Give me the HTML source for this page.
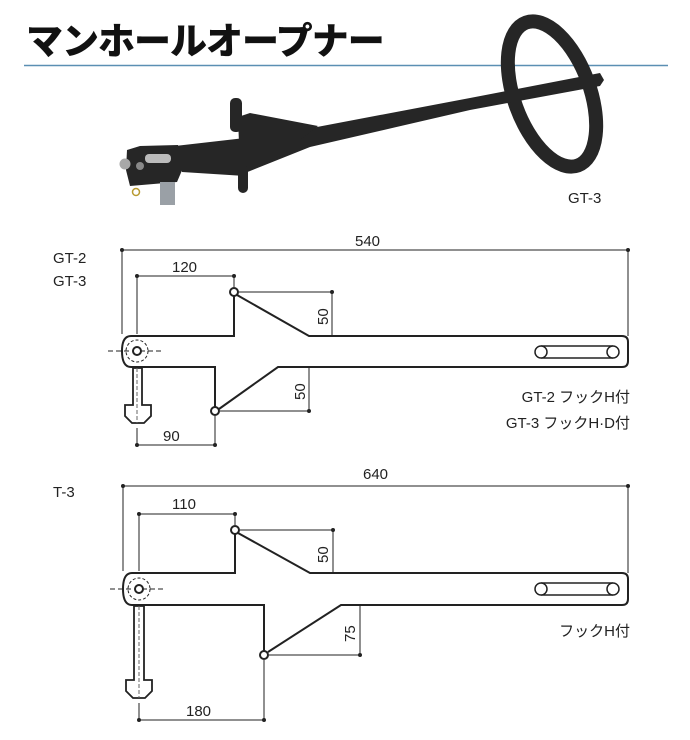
<!DOCTYPE html>
<html><head><meta charset="utf-8"><style>
html,body{margin:0;padding:0;background:#fff;}
svg{display:block;}
text{font-family:"Liberation Sans","Noto Sans CJK JP",sans-serif;fill:#222;}
</style></head><body>
<svg width="690" height="740" viewBox="0 0 690 740" xmlns="http://www.w3.org/2000/svg">
<!-- header -->
<text x="26" y="54" style="font-family:'Noto Sans CJK JP','WenQuanYi Zen Hei',sans-serif;font-weight:900;font-size:37px;fill:#111;letter-spacing:-1px">マンホールオープナー</text>
<line x1="24" y1="65.5" x2="668" y2="65.5" stroke="#5b8fb3" stroke-width="1.5"/>

<!-- photo sketch -->
<g fill="#262626" stroke="none">
  <ellipse cx="552" cy="94" rx="38" ry="76" transform="rotate(-20 552 94)" fill="none" stroke="#262626" stroke-width="14"/>
  <!-- beam -->
  <polygon points="240,140 317,127 470,98 600,73 604,80 600,86 470,110 310,147 240,175"/>
  <!-- plate -->
  <polygon points="238,117 250,113 318,126 300,140 260,160 240,170"/>
  <!-- neck -->
  <polygon points="175,146 245,138 245,176 182,172"/>
  <!-- posts -->
  <rect x="230" y="98" width="12" height="34" rx="5"/>
  <rect x="238" y="165" width="10" height="28" rx="5"/>
  <!-- clevis -->
  <polygon points="127,150 140,146 178,145 183,168 177,182 130,186 126,170"/>
  <rect x="145" y="154" width="26" height="9" rx="4" fill="#bbb"/>
  <rect x="160" y="182" width="15" height="23" fill="#9aa0a6"/>
  <circle cx="125" cy="164" r="5.5" fill="#a8a8a8"/>
  <circle cx="140" cy="166" r="4" fill="#888"/>
  <circle cx="136" cy="192" r="3.5" fill="none" stroke="#b89a30" stroke-width="1.5"/>
</g>
<text x="568" y="203" font-size="15">GT-3</text>

<g stroke="#222" fill="none" stroke-width="2">
  <!-- ============ Diagram 1 ============ -->
  <g stroke-width="1">
    <line x1="122" y1="250" x2="628" y2="250"/>
    <line x1="122" y1="250" x2="122" y2="334"/>
    <line x1="628" y1="250" x2="628" y2="336"/>
    <line x1="137" y1="276" x2="234" y2="276"/>
    <line x1="137" y1="276" x2="137" y2="334"/>
    <line x1="234" y1="276" x2="234" y2="287"/>
    <line x1="239" y1="292" x2="332" y2="292"/>
    <line x1="332" y1="292" x2="332" y2="336"/>
    <line x1="220" y1="411" x2="309" y2="411"/>
    <line x1="309" y1="367" x2="309" y2="411"/>
    <line x1="137" y1="428" x2="137" y2="445"/>
    <line x1="215" y1="416" x2="215" y2="445"/>
    <line x1="137" y1="445" x2="215" y2="445"/>
    <line x1="108" y1="351" x2="164" y2="351" stroke-dasharray="5,3"/>
    <circle cx="137" cy="351" r="11" stroke-dasharray="3,2"/>
  </g>
  <g fill="#222" stroke="none">
    <circle cx="122" cy="250" r="2"/><circle cx="628" cy="250" r="2"/>
    <circle cx="137" cy="276" r="2"/><circle cx="234" cy="276" r="2"/>
    <circle cx="332" cy="292" r="2"/><circle cx="309" cy="411" r="2"/>
    <circle cx="137" cy="445" r="2"/><circle cx="215" cy="445" r="2"/>
  </g>
  <path d="M131,336 H234 V296 M237,295 L309,336 H622 Q628,336 628,342 V361 Q628,367 622,367 H278 L219,409 M215,407 V367 H131 Q122,367 122,351 Q122,336 131,336"/>
  <circle cx="234" cy="292" r="4" fill="#fff"/>
  <circle cx="215" cy="411" r="4" fill="#fff"/>
  <circle cx="137" cy="351" r="4" fill="#fff"/>
  <path d="M541,346 H613 M541,358 H613" stroke-width="1.5"/>
  <circle cx="541" cy="352" r="6" fill="#fff" stroke-width="1.5"/>
  <circle cx="613" cy="352" r="6" fill="#fff" stroke-width="1.5"/>
  <path d="M133,368 V405 H125 V416 L132,423 H144 L151,416 V405 H142 V368 Z" fill="#fff" stroke-width="1.8"/>
  <line x1="137" y1="368" x2="137" y2="423" stroke-width="1" stroke="#666" stroke-dasharray="4,2"/>

  <!-- ============ Diagram 2 ============ -->
  <g stroke-width="1">
    <line x1="123" y1="486" x2="628" y2="486"/>
    <line x1="123" y1="486" x2="123" y2="571"/>
    <line x1="628" y1="486" x2="628" y2="573"/>
    <line x1="139" y1="514" x2="235" y2="514"/>
    <line x1="139" y1="514" x2="139" y2="571"/>
    <line x1="235" y1="514" x2="235" y2="525"/>
    <line x1="240" y1="530" x2="333" y2="530"/>
    <line x1="333" y1="530" x2="333" y2="573"/>
    <line x1="269" y1="655" x2="360" y2="655"/>
    <line x1="360" y1="605" x2="360" y2="655"/>
    <line x1="139" y1="703" x2="139" y2="720"/>
    <line x1="264" y1="660" x2="264" y2="720"/>
    <line x1="139" y1="720" x2="264" y2="720"/>
    <line x1="110" y1="589" x2="164" y2="589" stroke-dasharray="5,3"/>
    <circle cx="139" cy="589" r="11" stroke-dasharray="3,2"/>
  </g>
  <g fill="#222" stroke="none">
    <circle cx="123" cy="486" r="2"/><circle cx="628" cy="486" r="2"/>
    <circle cx="139" cy="514" r="2"/><circle cx="235" cy="514" r="2"/>
    <circle cx="333" cy="530" r="2"/><circle cx="360" cy="655" r="2"/>
    <circle cx="139" cy="720" r="2"/><circle cx="264" cy="720" r="2"/>
  </g>
  <path d="M132,573 H235 V534 M238,533 L310,573 H622 Q628,573 628,579 V599 Q628,605 622,605 H341 L268,652 M264,651 V605 H132 Q123,605 123,589 Q123,573 132,573"/>
  <circle cx="235" cy="530" r="4" fill="#fff"/>
  <circle cx="264" cy="655" r="4" fill="#fff"/>
  <circle cx="139" cy="589" r="4" fill="#fff"/>
  <path d="M541,583 H613 M541,595 H613" stroke-width="1.5"/>
  <circle cx="541" cy="589" r="6" fill="#fff" stroke-width="1.5"/>
  <circle cx="613" cy="589" r="6" fill="#fff" stroke-width="1.5"/>
  <path d="M134,606 V680 H126 V691 L133,698 H145 L152,691 V680 H144 V606 Z" fill="#fff" stroke-width="1.8"/>
  <line x1="139" y1="606" x2="139" y2="698" stroke-width="1" stroke="#666" stroke-dasharray="4,2"/>
</g>

<!-- labels -->
<g font-size="15">
  <text x="53" y="263">GT-2</text>
  <text x="53" y="286">GT-3</text>
  <text x="355" y="246">540</text>
  <text x="172" y="272">120</text>
  <text x="163" y="441">90</text>
  <text transform="translate(328,325) rotate(-90)">50</text>
  <text transform="translate(305,400) rotate(-90)">50</text>
  <text x="630" y="402" text-anchor="end">GT-2 フックH付</text>
  <text x="630" y="428" text-anchor="end">GT-3 フックH·D付</text>

  <text x="53" y="497">T-3</text>
  <text x="363" y="479">640</text>
  <text x="172" y="509">110</text>
  <text x="186" y="716">180</text>
  <text transform="translate(328,563) rotate(-90)">50</text>
  <text transform="translate(355,642) rotate(-90)">75</text>
  <text x="630" y="636" text-anchor="end">フックH付</text>
</g>
</svg>
</body></html>
